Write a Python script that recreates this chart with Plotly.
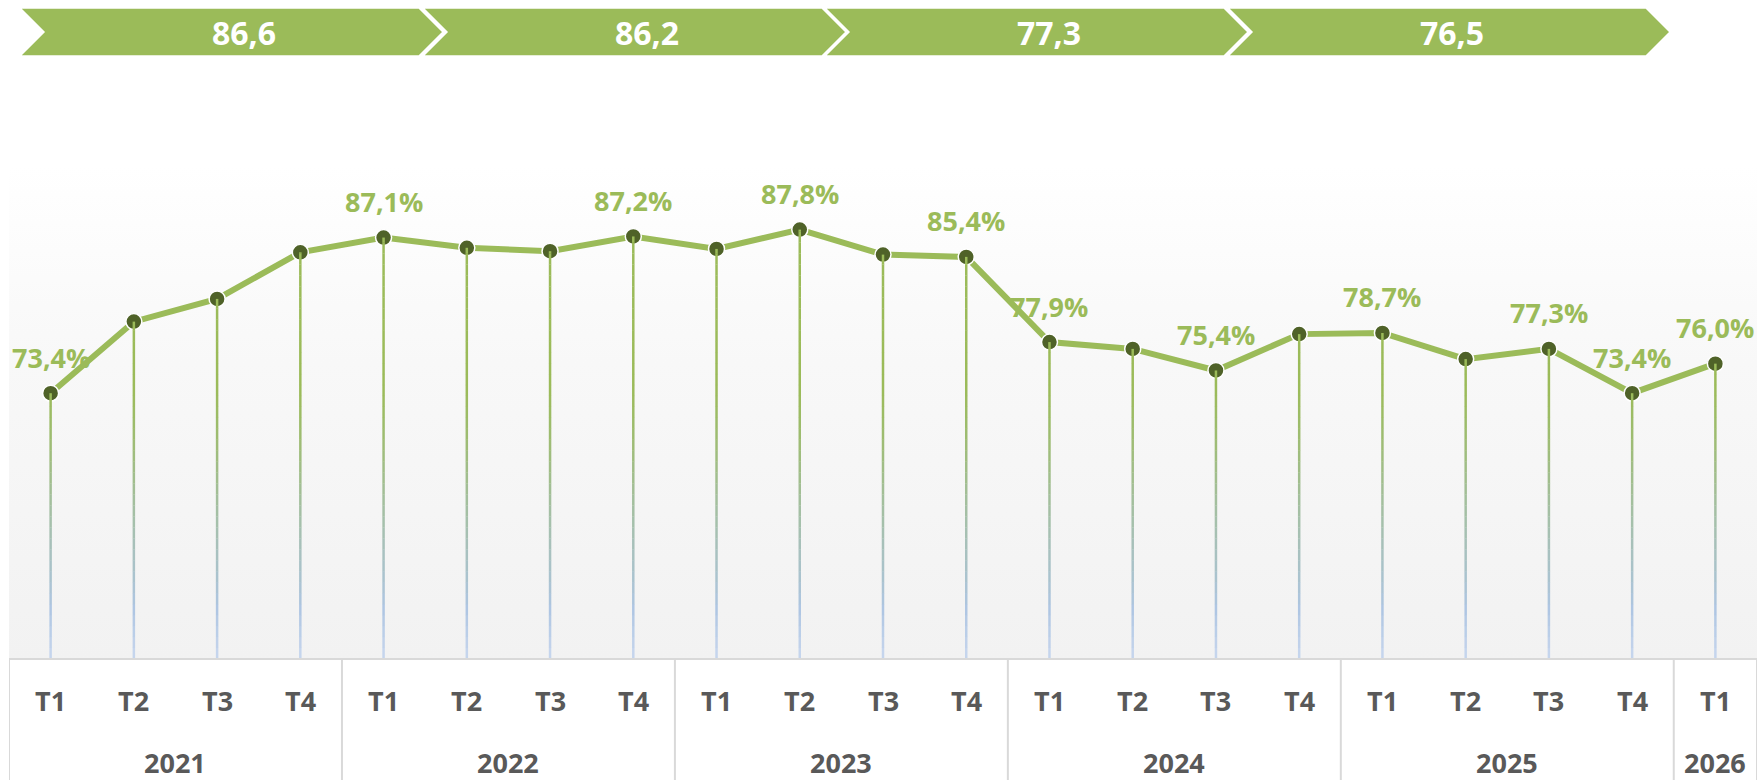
import plotly.graph_objects as go

# ---------------- data ----------------
years = ["2021"] * 4 + ["2022"] * 4 + ["2023"] * 4 + ["2024"] * 4 + ["2025"] * 4 + ["2026"]
quarters = ["T1", "T2", "T3", "T4"] * 5 + ["T1"]
values = [73.4, 79.7, 81.7, 85.8,
          87.1, 86.2, 85.9, 87.2,
          86.1, 87.8, 85.6, 85.4,
          77.9, 77.3, 75.4, 78.6,
          78.7, 76.4, 77.3, 73.4,
          76.0]
label_shown = [True, False, False, False,
               True, False, False, True,
               False, True, False, True,
               True, False, True, False,
               True, False, True, True,
               True]
band_values = [86.6, 86.2, 77.3, 76.5]

# ---------------- layout constants ----------------
W, H = 1759, 780
PL, PR, PT, PB = 9, 1757, 166, 659          # plot area in pixels
Y0, Y1 = 50.0, 93.4
GREEN = "#9BBB59"
DARK = "#4F6228"
GREY_TXT = "#595959"
LINE_GREY = "#D9D9D9"
FONT = "Open Sans"
WEIGHT = 700

n = len(values)
xs = list(range(n))


def px_x(p):
    return (p - PL) / (PR - PL)


def px_y(p):
    return (PB - p) / (PB - PT)


def fmt(v, pct=True):
    s = f"{v:.1f}".replace(".", ",")
    return s + ("%" if pct else "")


fig = go.Figure()

# plot-area background gradient
fig.add_trace(go.Scatter(
    x=[-0.5, n - 0.5, n - 0.5, -0.5, -0.5],
    y=[Y0, Y0, Y1, Y1, Y0],
    mode="none", fill="toself",
    fillgradient=dict(type="vertical",
                      colorscale=[[0, "#F2F2F2"], [0.6, "#F8F8F8"], [1, "#FFFFFF"]]),
    hoverinfo="skip", showlegend=False,
))

# main line with markers
fig.add_trace(go.Scatter(
    x=xs, y=values, mode="lines+markers",
    line=dict(color=GREEN, width=6),
    marker=dict(size=16, color=DARK, line=dict(color="white", width=1.5)),
    hoverinfo="skip", showlegend=False,
))

# drop lines with a vertical colour gradient (drawn in bands)
stops = [(0.0, "#C8D7EE"), (0.1, "#AFC6E3"), (0.2, "#A8C1C4"), (0.32, "#A3BF9E"),
         (0.45, "#9DBC70"), (0.55, GREEN), (1.0, GREEN)]


def hex2rgb(h):
    h = h.lstrip("#")
    return tuple(int(h[i:i + 2], 16) for i in (0, 2, 4))


def color_at(f):
    for (f0, c0), (f1, c1) in zip(stops[:-1], stops[1:]):
        if f0 <= f <= f1:
            t = 0 if f1 == f0 else (f - f0) / (f1 - f0)
            a, b = hex2rgb(c0), hex2rgb(c1)
            return "rgb(%d,%d,%d)" % tuple(round(a[i] + (b[i] - a[i]) * t) for i in range(3))
    return GREEN


NB = 45
for k in range(NB):
    lo = Y0 + (Y1 - Y0) * k / NB
    hi = Y0 + (Y1 - Y0) * (k + 1) / NB
    sx, sy = [], []
    for i, v in enumerate(values):
        if v > lo:
            sx += [i, i, None]
            sy += [lo, min(hi + 0.02, v), None]
    if sx:
        fig.add_trace(go.Scatter(
            x=sx, y=sy, mode="lines",
            line=dict(color=color_at((k + 0.5) / NB), width=2.5),
            hoverinfo="skip", showlegend=False,
        ))

annotations = []
shapes = []

# data labels
for i, v in enumerate(values):
    if label_shown[i]:
        annotations.append(dict(
            x=i, y=v, xref="x", yref="y", text=fmt(v), showarrow=False,
            yshift=36, font=dict(family=FONT, size=27, color=GREEN, weight=WEIGHT),
        ))

# category axis labels (quarters and years)
for i, q in enumerate(quarters):
    annotations.append(dict(
        x=i, y=0, xref="x", yref="paper", text=q, showarrow=False,
        yanchor="middle", yshift=-41,
        font=dict(family=FONT, size=27, color=GREY_TXT, weight=WEIGHT),
    ))

groups = []
for i, yv in enumerate(years):
    if not groups or groups[-1][0] != yv:
        groups.append([yv, i, i])
    else:
        groups[-1][2] = i
for yv, a, b in groups:
    annotations.append(dict(
        x=(a + b) / 2, y=0, xref="x", yref="paper", text=yv, showarrow=False,
        yanchor="middle", yshift=-103,
        font=dict(family=FONT, size=27, color=GREY_TXT, weight=WEIGHT),
    ))

bottom_paper = px_y(H)
shapes.append(dict(type="line", xref="x", yref="paper", x0=-0.5, x1=n - 0.5, y0=0, y1=0,
                   line=dict(color=LINE_GREY, width=2)))
bounds = [groups[0][1] - 0.5] + [g[2] + 0.5 for g in groups]
for bx in bounds:
    shapes.append(dict(type="line", xref="x", yref="paper", x0=bx, x1=bx, y0=0, y1=bottom_paper,
                       line=dict(color=LINE_GREY, width=2)))

# top chevron band
seg_left = [20, 423, 825, 1228]
seg_right = [419, 822, 1224, 1646]
d = 24
top, bot, mid = 8, 56, 32
for L, R, val in zip(seg_left, seg_right, band_values):
    pts = [(L, top), (R, top), (R + d, mid), (R, bot), (L, bot), (L + d, mid)]
    path = "M " + " L ".join(f"{px_x(x):.5f},{px_y(y):.5f}" for x, y in pts) + " Z"
    shapes.append(dict(type="path", xref="paper", yref="paper", path=path,
                       fillcolor=GREEN, line=dict(color="white", width=1.5), layer="above"))
    annotations.append(dict(
        x=px_x(L + 224), y=px_y(mid), xref="paper", yref="paper", text=fmt(val, pct=False),
        showarrow=False, xanchor="center", yanchor="middle",
        font=dict(family=FONT, size=32, color="white", weight=WEIGHT),
    ))

fig.update_layout(
    width=W, height=H,
    margin=dict(l=PL, r=W - PR, t=PT, b=H - PB, pad=0),
    paper_bgcolor="white", plot_bgcolor="white",
    showlegend=False,
    xaxis=dict(range=[-0.5, n - 0.5], showgrid=False, zeroline=False, showticklabels=False,
               showline=False, ticks="", fixedrange=True),
    yaxis=dict(range=[Y0, Y1], showgrid=False, zeroline=False, showticklabels=False,
               showline=False, ticks="", fixedrange=True),
    annotations=annotations,
    shapes=shapes,
)

fig.write_html(
    "out.html",
    config={"displayModeBar": False},
    post_script="document.body.style.margin='0';document.body.style.overflow='hidden';",
)
